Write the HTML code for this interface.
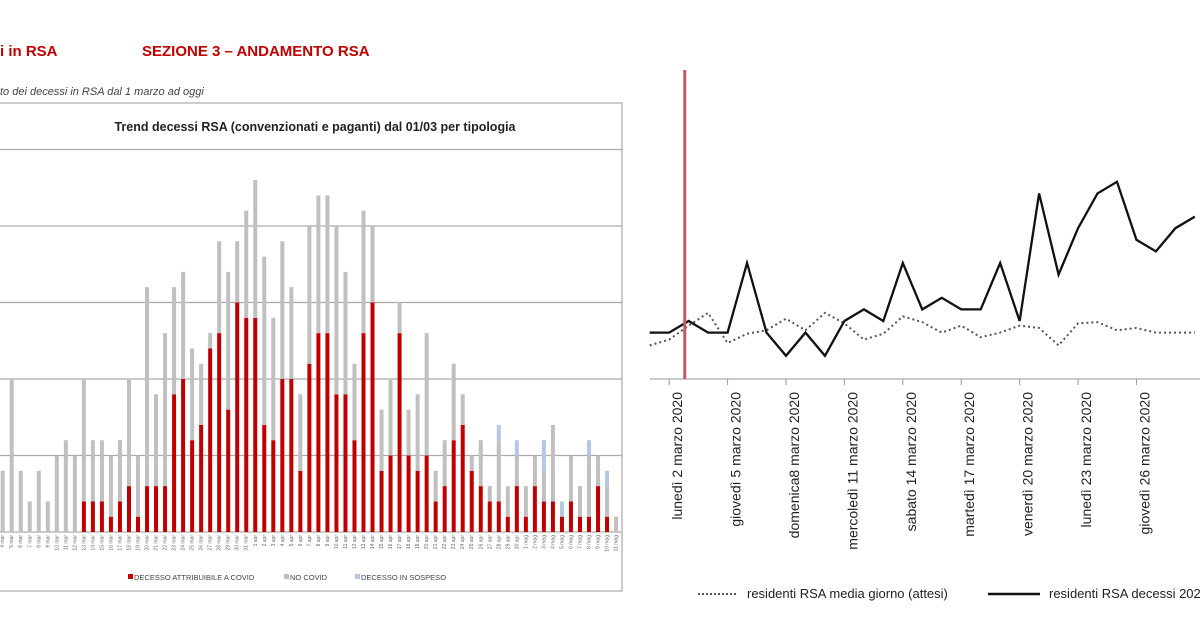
<!DOCTYPE html>
<html><head><meta charset="utf-8">
<style>
body{margin:0;background:#fff;width:1200px;height:627px;overflow:hidden;position:relative;font-family:"Liberation Sans",sans-serif}
.hdr{position:absolute;color:#c00000;font-weight:bold;font-size:15px}
</style></head><body>
<div class="hdr" style="left:0;top:43px">i in RSA</div>
<div class="hdr" style="left:142px;top:43px">SEZIONE 3 – ANDAMENTO RSA</div>
<div style="position:absolute;left:0;top:86px;font-size:11px;font-style:italic;color:#444">to dei decessi in RSA dal 1 marzo ad oggi</div>
<svg id="left" width="630" height="600" style="position:absolute;left:0;top:0"></svg>
<svg id="right" width="1200" height="627" style="position:absolute;left:0;top:0"></svg>
<script>
const barLabels=[];
const days=["mar",4,31,"apr",1,30,"mag",1,11];
for(let i=0;i<days.length;i+=3){for(let d=days[i+1];d<=days[i+2];d++)barLabels.push(d+" "+days[i]);}
const covid=[0,0,0,0,0,0,0,0,0,2,2,2,1,2,3,1,3,3,3,9,10,6,7,12,13,8,15,14,14,7,6,10,10,4,11,13,13,9,9,6,13,15,4,5,13,5,4,5,2,3,6,7,4,3,2,2,1,3,1,3,2,2,1,2,1,1,3,1,0];
const noCovid=[4,10,4,2,4,2,5,6,5,8,4,4,4,4,7,4,13,6,10,7,7,6,4,1,6,9,4,7,9,11,8,9,6,5,9,9,9,11,8,5,8,5,4,5,2,3,5,8,2,3,5,2,1,3,1,4,2,2,2,2,2,5,0,3,2,4,2,2,1];
const sospeso=[0,0,0,0,0,0,0,0,0,0,0,0,0,0,0,0,0,0,0,0,0,0,0,0,0,0,0,0,0,0,0,0,0,0,0,0,0,0,0,0,0,0,0,0,0,0,0,0,0,0,0,0,0,0,0,1,0,1,0,0,2,0,1,0,0,1,0,1,0];
const leftTicks=[0,5,10,15,20,25];

const lineTicks=["lunedì 2 marzo 2020","giovedì 5 marzo 2020","domenica8 marzo 2020","mercoledì 11 marzo 2020","sabato 14 marzo 2020","martedì 17 marzo 2020","venerdì 20 marzo 2020","lunedì 23 marzo 2020","giovedì 26 marzo 2020"];
const tickDays=[2,5,8,11,14,17,20,23,26];
const decessi=[4,4,5,4,4,10,4,2,4,2,5,6,5,10,6,7,6,6,10,5,16,9,13,16,17,12,11,13,14];
const attesi=[2.9,3.4,4.6,5.7,3.1,3.9,4.2,5.2,4.2,5.7,4.8,3.4,3.9,5.4,4.9,4.0,4.6,3.6,4.0,4.6,4.4,2.9,4.8,4.9,4.2,4.4,4.0,4.0,4.0];
const covidStart=2.8;

const NS="http://www.w3.org/2000/svg";
function mk(p,t,a){const e=document.createElementNS(NS,t);for(const k in a)e.setAttribute(k,a[k]);p.appendChild(e);return e;}

// left chart
const L=document.getElementById('left');
const bx=i=>2.7+i*9.02, by=v=>532-v*15.3;
let e=mk(L,'rect',{x:-2,y:103,width:624,height:488,fill:'none',stroke:'#999','stroke-width':1});

e=mk(L,'text',{x:315,y:131,'text-anchor':'middle','font-size':12.5,'font-weight':'bold',fill:'#222'});
e.textContent='Trend decessi RSA (convenzionati e paganti) dal 01/03 per tipologia';

leftTicks.forEach(t=>{const g=mk(L,'line',{x1:0,x2:622,y1:by(t),y2:by(t),stroke:t?'#aaa':'#bbb','stroke-width':t?1.2:1.5});
});
covid.forEach((c,i)=>{
  const x=bx(i)-2,n=noCovid[i]||0,s=sospeso[i]||0;
  let r=mk(L,'rect',{x:x,y:by(c),width:4,height:c*15.3,fill:'#c00000'});
  
  r=mk(L,'rect',{x:x,y:by(c+n),width:4,height:n*15.3,fill:'#c0c0c0'});
  
  r=mk(L,'rect',{x:x,y:by(c+n+s),width:4,height:s*15.3,fill:'#b4c7e7'});
  
  const tx=mk(L,'text',{x:0,y:0,'font-size':5,fill:'#666','text-anchor':'end',transform:`translate(${bx(i)+1.5},535) rotate(-90)`});
  tx.textContent=barLabels[i];
  
});
[['#c00000','DECESSO ATTRIBUIBILE A COVID',128],['#c0c0c0','NO COVID',284],['#b4c7e7','DECESSO IN SOSPESO',355]].forEach(l=>{
  const r=mk(L,'rect',{x:l[2],y:574,width:5,height:5,fill:l[0]});
  
  const t=mk(L,'text',{x:l[2]+6,y:580,'font-size':7.5,fill:'#444'});t.textContent=l[1];
  
});

// right chart
const R=document.getElementById('right');
const lx=d=>649.7+(d-1)*19.47, ly=v=>379-v*11.6;
e=mk(R,'line',{x1:650,x2:1200,y1:379,y2:379,stroke:'#999','stroke-width':1});

tickDays.forEach((d,i)=>{
  const t=mk(R,'line',{x1:lx(d),x2:lx(d),y1:379,y2:385,stroke:'#999'});
  
  const tx=mk(R,'text',{x:0,y:0,'font-size':14,fill:'#222','text-anchor':'end',transform:`translate(${lx(d)+13},392) rotate(-90)`});
  tx.textContent=lineTicks[i];
  
});
e=mk(R,'path',{d:attesi.map((v,i)=>(i?'L':'M')+lx(i+1)+','+ly(v)).join(''),fill:'none',stroke:'#555','stroke-width':2,'stroke-dasharray':'2 3'});

e=mk(R,'path',{d:decessi.map((v,i)=>(i?'L':'M')+lx(i+1)+','+ly(v)).join(''),fill:'none',stroke:'#111','stroke-width':2.3});

e=mk(R,'line',{x1:lx(covidStart),x2:lx(covidStart),y1:70,y2:379,stroke:'#c9585a','stroke-width':3});

e=mk(R,'line',{x1:698,x2:738,y1:594,y2:594,stroke:'#555','stroke-width':2,'stroke-dasharray':'2 2'});

e=mk(R,'text',{x:747,y:598,'font-size':13,fill:'#222'});e.textContent='residenti RSA media giorno (attesi)';

e=mk(R,'line',{x1:988,x2:1040,y1:594,y2:594,stroke:'#111','stroke-width':2.5});

e=mk(R,'text',{x:1049,y:598,'font-size':13,fill:'#222'});e.textContent='residenti RSA decessi 2020';

</script>
</body></html>
